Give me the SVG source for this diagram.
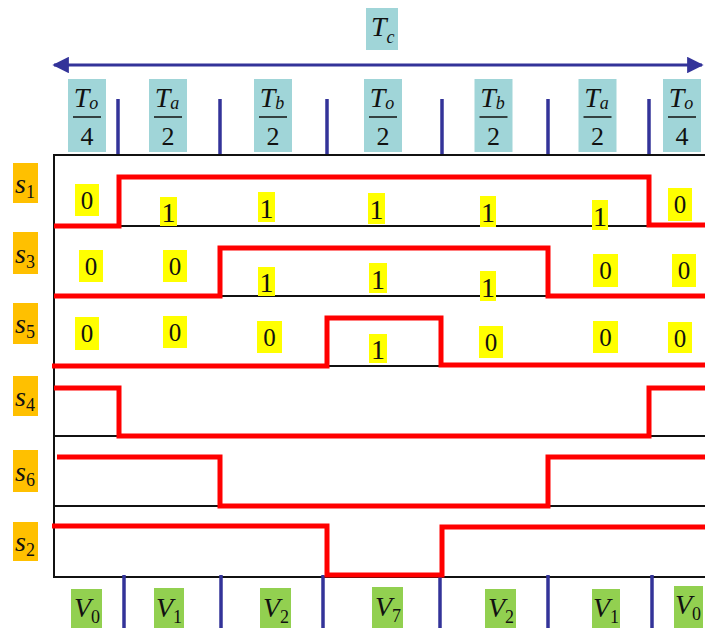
<svg xmlns="http://www.w3.org/2000/svg" width="705" height="628" viewBox="0 0 705 628">
<style>
.teal{fill:#a0d5d8}
.org{fill:#ffc000}
.yel{fill:#ffff00}
.grn{fill:#92d050}
.tx{font-family:"Liberation Serif","Times New Roman",serif;fill:#111}
.it{font-style:italic;font-size:28px}
.sub{font-size:18px;font-style:normal}
.subi{font-size:18px;font-style:italic}
.num{font-size:26px}
.d0{font-size:25px}
.d1{font-size:28px}
.bar{stroke:#111;stroke-width:1.5}
.base{stroke:#111;stroke-width:2;fill:none}
.sig{stroke:#ff0000;stroke-width:5;fill:none;stroke-linejoin:miter;stroke-linecap:butt}
.tick{stroke:#333399;stroke-width:3.5}
.arr{stroke:#333399;stroke-width:3}
</style>
<defs>
<marker id="ah" viewBox="0 0 10 10" refX="9" refY="5" markerWidth="6" markerHeight="5.5" orient="auto-start-reverse" markerUnits="strokeWidth">
<path d="M0,0 L10,5 L0,10 z" fill="#333399"/>
</marker>
</defs>

<g id="tc">
<rect x="366" y="8" width="32" height="42" class="teal"/>
<text x="371" y="36" class="tx it">T<tspan class="subi" dy="7">c</tspan></text>
</g>

<g id="connectors">
<line x1="54" y1="65" x2="702" y2="65" class="arr" marker-start="url(#ah)" marker-end="url(#ah)"/>
<g id="topticks">
<line x1="118" y1="99" x2="118" y2="156" class="tick"/>
<line x1="220" y1="99" x2="220" y2="156" class="tick"/>
<line x1="327" y1="99" x2="327" y2="156" class="tick"/>
<line x1="442" y1="99" x2="442" y2="156" class="tick"/>
<line x1="548" y1="99" x2="548" y2="156" class="tick"/>
<line x1="649" y1="99" x2="649" y2="156" class="tick"/>
</g>
<g id="frame">
<path d="M705,155 H54 V577 H705" class="base"/>
<line x1="54" y1="226" x2="705" y2="226" class="base"/>
<line x1="54" y1="296" x2="705" y2="296" class="base"/>
<line x1="54" y1="366" x2="705" y2="366" class="base"/>
<line x1="54" y1="436" x2="705" y2="436" class="base"/>
<line x1="54" y1="506" x2="705" y2="506" class="base"/>
</g>
<g id="bottomticks">
<line x1="124" y1="575" x2="124" y2="628" class="tick"/>
<line x1="221" y1="575" x2="221" y2="628" class="tick"/>
<line x1="323" y1="575" x2="323" y2="628" class="tick"/>
<line x1="440" y1="575" x2="440" y2="628" class="tick"/>
<line x1="548" y1="575" x2="548" y2="628" class="tick"/>
<line x1="652" y1="575" x2="652" y2="628" class="tick"/>
</g>
<g id="signals">
<path d="M54,226 H119 V177 H649 V225 H705" class="sig"/>
<path d="M54,296 H220 V248 H548 V296 H705" class="sig"/>
<path d="M52,366 H327 V318 H441 V365 H705" class="sig"/>
<path d="M54,388 H119 V436 H649 V388 H705" class="sig"/>
<path d="M57,457 H220 V506 H548 V457 H705" class="sig"/>
<path d="M52,526 H327 V575 H442 V527 H705" class="sig"/>
</g>
</g>

<g id="fractions">
<g id="f1" transform="translate(87,0)">
<rect x="-19" y="79" width="38" height="73" class="teal"/>
<text x="-1" y="107" class="tx it" text-anchor="middle">T<tspan class="subi" dy="2">o</tspan></text>
<line x1="-14" y1="117" x2="14" y2="117" class="bar"/>
<text x="0" y="145" class="tx num" text-anchor="middle">4</text>
</g>
<g id="f2" transform="translate(168,0)">
<rect x="-19" y="79" width="38" height="73" class="teal"/>
<text x="-1" y="107" class="tx it" text-anchor="middle">T<tspan class="subi" dy="2">a</tspan></text>
<line x1="-14" y1="117" x2="14" y2="117" class="bar"/>
<text x="0" y="145" class="tx num" text-anchor="middle">2</text>
</g>
<g id="f3" transform="translate(273,0)">
<rect x="-19" y="79" width="38" height="73" class="teal"/>
<text x="-1" y="107" class="tx it" text-anchor="middle">T<tspan class="subi" dy="2">b</tspan></text>
<line x1="-14" y1="117" x2="14" y2="117" class="bar"/>
<text x="0" y="145" class="tx num" text-anchor="middle">2</text>
</g>
<g id="f4" transform="translate(383,0)">
<rect x="-19" y="79" width="38" height="73" class="teal"/>
<text x="-1" y="107" class="tx it" text-anchor="middle">T<tspan class="subi" dy="2">o</tspan></text>
<line x1="-14" y1="117" x2="14" y2="117" class="bar"/>
<text x="0" y="145" class="tx num" text-anchor="middle">2</text>
</g>
<g id="f5" transform="translate(493.5,0)">
<rect x="-19" y="79" width="38" height="73" class="teal"/>
<text x="-1" y="107" class="tx it" text-anchor="middle">T<tspan class="subi" dy="2">b</tspan></text>
<line x1="-14" y1="117" x2="14" y2="117" class="bar"/>
<text x="0" y="145" class="tx num" text-anchor="middle">2</text>
</g>
<g id="f6" transform="translate(597.5,0)">
<rect x="-19" y="79" width="38" height="73" class="teal"/>
<text x="-1" y="107" class="tx it" text-anchor="middle">T<tspan class="subi" dy="2">a</tspan></text>
<line x1="-14" y1="117" x2="14" y2="117" class="bar"/>
<text x="0" y="145" class="tx num" text-anchor="middle">2</text>
</g>
<g id="f7" transform="translate(682,0)">
<rect x="-19" y="79" width="38" height="73" class="teal"/>
<text x="-1" y="107" class="tx it" text-anchor="middle">T<tspan class="subi" dy="2">o</tspan></text>
<line x1="-14" y1="117" x2="14" y2="117" class="bar"/>
<text x="0" y="145" class="tx num" text-anchor="middle">4</text>
</g>
</g>

<g id="switches">
<g id="s1"><rect x="13" y="163" width="25" height="40" class="org"/><text x="15" y="193" class="tx it" font-size="30">s<tspan class="sub" dy="5">1</tspan></text></g>
<g id="s3"><rect x="13" y="232" width="25" height="42" class="org"/><text x="15" y="263" class="tx it">s<tspan class="sub" dy="5">3</tspan></text></g>
<g id="s5"><rect x="13" y="303" width="25" height="41" class="org"/><text x="15" y="333" class="tx it">s<tspan class="sub" dy="5">5</tspan></text></g>
<g id="s4"><rect x="13" y="376" width="25" height="40" class="org"/><text x="15" y="406" class="tx it">s<tspan class="sub" dy="5">4</tspan></text></g>
<g id="s6"><rect x="13" y="450" width="25" height="42" class="org"/><text x="15" y="481" class="tx it">s<tspan class="sub" dy="5">6</tspan></text></g>
<g id="s2"><rect x="13" y="522" width="25" height="39" class="org"/><text x="15" y="551" class="tx it">s<tspan class="sub" dy="5">2</tspan></text></g>
</g>

<g id="bits">
<g id="row1">
<rect x="75" y="184" width="24" height="32" class="yel"/><text x="87" y="209" class="tx d0" text-anchor="middle">0</text>
<rect x="160" y="197" width="17" height="29" class="yel"/><text x="168.5" y="222" class="tx d1" text-anchor="middle">1</text>
<rect x="258" y="192" width="17" height="30" class="yel"/><text x="266.5" y="218" class="tx d1" text-anchor="middle">1</text>
<rect x="368" y="193" width="17" height="31" class="yel"/><text x="376.5" y="219" class="tx d1" text-anchor="middle">1</text>
<rect x="480" y="196" width="16" height="31" class="yel"/><text x="488" y="222" class="tx d1" text-anchor="middle">1</text>
<rect x="592" y="200" width="16" height="30" class="yel"/><text x="600" y="226" class="tx d1" text-anchor="middle">1</text>
<rect x="668" y="188" width="24" height="33" class="yel"/><text x="680" y="213" class="tx d0" text-anchor="middle">0</text>
</g>
<g id="row3">
<rect x="79" y="250" width="24" height="32" class="yel"/><text x="91" y="275" class="tx d0" text-anchor="middle">0</text>
<rect x="163" y="250" width="24" height="32" class="yel"/><text x="175" y="275" class="tx d0" text-anchor="middle">0</text>
<rect x="258" y="267" width="17" height="29" class="yel"/><text x="266.5" y="292" class="tx d1" text-anchor="middle">1</text>
<rect x="369" y="263" width="18" height="30" class="yel"/><text x="378" y="289" class="tx d1" text-anchor="middle">1</text>
<rect x="480" y="271" width="16" height="30" class="yel"/><text x="488" y="297" class="tx d1" text-anchor="middle">1</text>
<rect x="593" y="254" width="25" height="33" class="yel"/><text x="605.5" y="279" class="tx d0" text-anchor="middle">0</text>
<rect x="672" y="254" width="24" height="33" class="yel"/><text x="684" y="279" class="tx d0" text-anchor="middle">0</text>
</g>
<g id="row5">
<rect x="75" y="317" width="24" height="33" class="yel"/><text x="87" y="342" class="tx d0" text-anchor="middle">0</text>
<rect x="163" y="316" width="24" height="32" class="yel"/><text x="175" y="341" class="tx d0" text-anchor="middle">0</text>
<rect x="257" y="321" width="25" height="32" class="yel"/><text x="269.5" y="346" class="tx d0" text-anchor="middle">0</text>
<rect x="369" y="334" width="18" height="29" class="yel"/><text x="378" y="359" class="tx d1" text-anchor="middle">1</text>
<rect x="479" y="326" width="24" height="32" class="yel"/><text x="491" y="351" class="tx d0" text-anchor="middle">0</text>
<rect x="593" y="321" width="25" height="32" class="yel"/><text x="605.5" y="346" class="tx d0" text-anchor="middle">0</text>
<rect x="668" y="322" width="24" height="31" class="yel"/><text x="680" y="347" class="tx d0" text-anchor="middle">0</text>
</g>
</g>

<g id="vectors">
<g id="v0a"><rect x="71" y="589" width="31" height="39" class="grn"/><text x="74" y="617" class="tx it">V<tspan class="sub" dy="6">0</tspan></text></g>
<g id="v1a"><rect x="154" y="588" width="30" height="40" class="grn"/><text x="156" y="617" class="tx it">V<tspan class="sub" dy="6">1</tspan></text></g>
<g id="v2a"><rect x="260" y="588" width="31" height="40" class="grn"/><text x="263" y="617" class="tx it">V<tspan class="sub" dy="6">2</tspan></text></g>
<g id="v7"><rect x="372" y="587" width="31" height="41" class="grn"/><text x="375" y="616" class="tx it">V<tspan class="sub" dy="6">7</tspan></text></g>
<g id="v2b"><rect x="485" y="589" width="31" height="39" class="grn"/><text x="488" y="617" class="tx it">V<tspan class="sub" dy="6">2</tspan></text></g>
<g id="v1b"><rect x="592" y="589" width="28" height="39" class="grn"/><text x="593" y="617" class="tx it">V<tspan class="sub" dy="6">1</tspan></text></g>
<g id="v0b"><rect x="674" y="586" width="29" height="42" class="grn"/><text x="675" y="614" class="tx it">V<tspan class="sub" dy="6">0</tspan></text></g>
</g>
</svg>
